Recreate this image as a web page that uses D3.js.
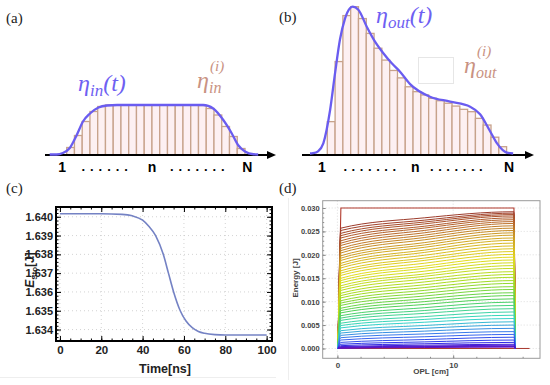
<!DOCTYPE html>
<html><head><meta charset="utf-8">
<script src="https://cdn.jsdelivr.net/npm/d3@7"></script>
<style>body{margin:0;background:#fff} svg{display:block}</style>
</head><body><div id="app"></div>
<script>
// ---- (a) input slices and envelope (normalised to plateau) ----
const barsIn = [0.15,0.39,0.67,0.87,0.97,1,1,1,1,1,1,1,1,1,1,1,1,0.99,0.93,0.80,0.57,0.37,0.13];
const envInU = [-2.2,-1.3,-0.5,0.4,1.3,2.1,3.0,4.1,5.2,6.5,17.6,18.9,20.2,21.3,22.1,23.0,24.1,24.7];
const envInV = [0.01,0.01,0.04,0.14,0.40,0.67,0.83,0.95,0.99,1.0,1.0,0.93,0.70,0.43,0.20,0.07,0.015,0.01];
const idxLabelsIn = ["1","n","N"], idxPosIn = [-0.6,11.0,23.3];
const dotPosIn = [2.15,3.25,4.35,5.45,6.55,7.65,13.55,14.65,15.75,16.85,17.95,19.05,20.15];

// ---- (b) output slices and envelope (normalised to peak) ----
const barsOut = [0.225,0.63,0.94,1.0,0.92,0.82,0.72,0.64,0.57,0.52,0.46,0.427,0.405,0.382,0.366,0.349,0.33,0.308,0.292,0.247,0.202,0.12,0.056];
const envOutU = [-2.22,-1.84,-1.19,-0.51,0.35,0.99,1.63,2.27,2.91,3.26,3.98,5.06,6.12,7.19,8.27,9.33,10.62,13.18,15.75,18.32,19.6,20.88,21.75,23.03,23.84];
const envOutV = [0.01,0.012,0.025,0.079,0.30,0.55,0.78,0.92,0.99,1.0,0.98,0.865,0.764,0.686,0.618,0.562,0.478,0.393,0.36,0.326,0.275,0.16,0.08,0.016,0.01];
const idxLabelsOut = ["1","n","N"], idxPosOut = [-0.7,11.3,23.3];
const dotPosOut = [2.3,3.35,4.4,5.45,6.5,7.55,8.6,13.4,14.45,15.5,16.55,17.6,18.65,19.7];

// ---- (c) stored energy vs time ----
const timeNs  = [0,20,30,35,40,43,46.3,50,52.5,55,58.2,61,64,67,70,75,80,100];
const energyJ = [1.64016,1.64016,1.64013,1.64005,1.63982,1.63950,1.6390,1.6380,1.6370,1.6360,1.6350,1.63445,1.6341,1.63390,1.63380,1.63373,1.63371,1.63371];
const yTicksC = [1.634,1.635,1.636,1.637,1.638,1.639,1.640];
const xTicksC = [0,20,40,60,80,100];

// ---- (d) energy along OPL, one curve per pass ----
const inputLevel = 0.030;
const oplStart = 0.3, oplMid = 7.5, oplEnd = 15.25;
const eLeft  = [0.0257,0.0252,0.0246,0.0241,0.0236,0.0230,0.0225,0.0220,0.0214,0.0209,0.0204,0.0198,0.0193,0.0188,0.0182,0.0177,0.0172,0.0166,0.0161,0.0156,0.0150,0.0145,0.0140,0.0134,0.0129,0.0124,0.0118,0.0113,0.0108,0.0102,0.0097,0.0092,0.0086,0.0081,0.0076,0.0070,0.0065,0.0060,0.0054,0.0049,0.0044,0.0038,0.0033,0.0028,0.0023,0.0018,0.0013,0.0009,0.0006,0.0004,0.0003,0.0002,0.0001,0.00005];
const eMid   = [0.0279,0.0274,0.0270,0.0266,0.0261,0.0257,0.0252,0.0247,0.0242,0.0237,0.0232,0.0226,0.0221,0.0216,0.0210,0.0205,0.0199,0.0193,0.0188,0.0182,0.0176,0.0171,0.0165,0.0159,0.0154,0.0148,0.0142,0.0136,0.0130,0.0124,0.0118,0.0112,0.0106,0.0100,0.0094,0.0087,0.0081,0.0075,0.0068,0.0062,0.0056,0.0049,0.0043,0.0037,0.0031,0.0025,0.0019,0.0014,0.0010,0.0007,0.0005,0.0004,0.0003,0.0002];
const eRight = [0.0292,0.0289,0.0286,0.0283,0.0279,0.0275,0.0271,0.0267,0.0262,0.0257,0.0252,0.0247,0.0242,0.0236,0.0231,0.0225,0.0219,0.0213,0.0207,0.0201,0.0195,0.0189,0.0183,0.0177,0.0171,0.0164,0.0158,0.0152,0.0145,0.0139,0.0132,0.0126,0.0119,0.0113,0.0106,0.0099,0.0092,0.0085,0.0078,0.0071,0.0064,0.0057,0.0050,0.0043,0.0036,0.0030,0.0024,0.0018,0.0013,0.0009,0.0007,0.0005,0.0004,0.0003];
const yTicksD = [0,0.005,0.010,0.015,0.020,0.025,0.030];
const xTicksD = [0,10];

const W = 550, H = 385;
const svg = d3.select("#app").append("svg")
    .attr("width", W).attr("height", H)
    .style("font-family", "'Liberation Sans', Arial, sans-serif");

// faint panel borders from the source figure
svg.append("line").attr("x1",0).attr("x2",276).attr("y1",377.5).attr("y2",377.5).attr("stroke","#eee");
svg.append("line").attr("x1",288.5).attr("x2",288.5).attr("y1",198).attr("y2",380).attr("stroke","#eee");

// panel letters
[["(a)",6,23],["(b)",279,22],["(c)",6,193],["(d)",279,193]].forEach(p=>{
    svg.append("text").attr("x",p[1]).attr("y",p[2]).text(p[0])
        .style("font-family","'Liberation Serif', 'DejaVu Serif', serif").style("font-size","15px").attr("fill","#222");
});

const barFill = "#fdf0f2", barStroke = "#c7a28b", envColor = "#6a5cf0", sliceColor = "#c99282";

function slicePanel(g, bars, envU, envV, x, y, axisX0, axisX1, labels, labelPos, dots){
    g.selectAll("rect.bar").data(bars).enter().append("rect")
        .attr("class","bar")
        .attr("x",(d,i)=>x(i)).attr("width",(d,i)=>x(i+1)-x(i))
        .attr("y",d=>y(d)).attr("height",d=>y(0)-y(d))
        .attr("fill",barFill).attr("stroke",barStroke).attr("stroke-width",1.3);
    const ay = y(0);
    g.append("line").attr("x1",axisX0).attr("x2",axisX1-4).attr("y1",ay).attr("y2",ay)
        .attr("stroke","#000").attr("stroke-width",2.2);
    g.append("path").attr("d",`M${axisX1},${ay}L${axisX1-9},${ay-4}L${axisX1-9},${ay+4}Z`).attr("fill","#000");
    const line = d3.line().x(d=>x(d[0])).y(d=>y(d[1])).curve(d3.curveMonotoneX);
    g.append("path").datum(envU.map((u,i)=>[u,envV[i]]))
        .attr("d",line).attr("fill","none").attr("stroke",envColor).attr("stroke-width",2.3);
    g.selectAll("text.idx").data(labels).enter().append("text").attr("class","idx")
        .attr("x",(d,i)=>x(labelPos[i])).attr("y",172).attr("text-anchor","middle")
        .style("font-size","14px").style("font-weight","bold").text(d=>d);
    g.selectAll("text.dot").data(dots).enter().append("text").attr("class","dot")
        .attr("x",d=>x(d)).attr("y",171).attr("text-anchor","middle")
        .style("font-size","13px").style("font-weight","bold").text(".");
}

// (a)
const xA = d3.scaleLinear().domain([0, barsIn.length]).range([66.7, 245]);
const yA = d3.scaleLinear().domain([0, 1]).range([155, 105]);
slicePanel(svg.append("g"), barsIn, envInU, envInV, xA, yA, 45, 276, idxLabelsIn, idxPosIn, dotPosIn);

// (b)
const xB = d3.scaleLinear().domain([0, barsOut.length]).range([327.3, 506.6]);
const yB = d3.scaleLinear().domain([0, 1]).range([155, 6.7]);
slicePanel(svg.append("g"), barsOut, envOutU, envOutV, xB, yB, 302, 534, idxLabelsOut, idxPosOut, dotPosOut);

// math labels
function mathLabel(x, y, sub, sup, tail, color){
    const t = svg.append("text").attr("x",x).attr("y",y).attr("fill",color)
        .style("font-family","'Liberation Serif', 'DejaVu Serif', serif").style("font-style","italic").style("font-size","24px");
    t.append("tspan").text("η");
    if (sup){
        t.append("tspan").attr("x",x+13).attr("dy",-17).style("font-size","15px").text(sup);
        t.append("tspan").attr("x",x+12).attr("dy",22).style("font-size","16px").text(sub);
    } else {
        t.append("tspan").attr("dy",5).style("font-size","17px").text(sub);
        t.append("tspan").attr("dy",-5).text(tail);
    }
}
mathLabel(78, 91, "in", null, "(t)", "#6e60f2");
mathLabel(197, 88, "in", "(i)", null, sliceColor);
mathLabel(376, 23, "out", null, "(t)", "#6e60f2");
mathLabel(464, 73, "out", "(i)", null, sliceColor);
svg.append("rect").attr("x",418.5).attr("y",57.5).attr("width",35).attr("height",26)
    .attr("fill","none").attr("stroke","#e6e6e6");

// ---- (c) ----
const xC = d3.scaleLinear().domain([-1.9, 102.6]).range([56, 272]);
const yC = d3.scaleLinear().domain([1.63339, 1.64052]).range([341, 207]);
const gC = svg.append("g");
gC.selectAll("line.gy").data(yTicksC).enter().append("line")
    .attr("x1",56).attr("x2",272).attr("y1",d=>yC(d)).attr("y2",d=>yC(d))
    .attr("stroke","#c8c8c8").attr("stroke-width",0.8).attr("stroke-dasharray","1,3");
gC.selectAll("line.gx").data(xTicksC).enter().append("line")
    .attr("y1",207).attr("y2",341).attr("x1",d=>xC(d)).attr("x2",d=>xC(d))
    .attr("stroke","#c8c8c8").attr("stroke-width",0.8).attr("stroke-dasharray","1,3");
const minorYC = d3.range(1.6336, 1.64051, 0.0002), minorXC = d3.range(0, 101, 5);
function styleAxis(sel, size, fill){
    sel.select(".domain").remove();
    sel.selectAll("text").style("font-size",size).style("font-weight","bold").attr("fill",fill);
}
gC.append("g").attr("transform","translate(56,0)")
    .call(d3.axisLeft(yC).tickValues(yTicksC).tickFormat(d3.format(".3f")).tickSize(-5).tickPadding(3))
    .call(s=>styleAxis(s,"11px","#222"));
gC.append("g").attr("transform","translate(56,0)")
    .call(d3.axisLeft(yC).tickValues(minorYC).tickFormat("").tickSize(-2.5)).call(s=>s.select(".domain").remove());
gC.append("g").attr("transform","translate(272,0)")
    .call(d3.axisRight(yC).tickValues(yTicksC).tickFormat("").tickSize(-5)).call(s=>s.select(".domain").remove());
gC.append("g").attr("transform","translate(272,0)")
    .call(d3.axisRight(yC).tickValues(minorYC).tickFormat("").tickSize(-2.5)).call(s=>s.select(".domain").remove());
gC.append("g").attr("transform","translate(0,341)")
    .call(d3.axisBottom(xC).tickValues(xTicksC).tickSize(-5).tickPadding(5))
    .call(s=>styleAxis(s,"11.5px","#222"));
gC.append("g").attr("transform","translate(0,341)")
    .call(d3.axisBottom(xC).tickValues(minorXC).tickFormat("").tickSize(-2.5)).call(s=>s.select(".domain").remove());
gC.append("g").attr("transform","translate(0,207)")
    .call(d3.axisTop(xC).tickValues(xTicksC).tickFormat("").tickSize(-5)).call(s=>s.select(".domain").remove());
gC.append("g").attr("transform","translate(0,207)")
    .call(d3.axisTop(xC).tickValues(minorXC).tickFormat("").tickSize(-2.5)).call(s=>s.select(".domain").remove());
gC.append("rect").attr("x",56).attr("y",207).attr("width",216).attr("height",134)
    .attr("fill","none").attr("stroke","#000").attr("stroke-width",2);
gC.append("path").datum(timeNs.map((t,i)=>[t,energyJ[i]]))
    .attr("d", d3.line().x(d=>xC(d[0])).y(d=>yC(d[1])).curve(d3.curveMonotoneX))
    .attr("fill","none").attr("stroke","#7482c4").attr("stroke-width",1.6);
const ylabC = gC.append("text").attr("transform","translate(34,270) rotate(-90)").attr("text-anchor","middle")
    .style("font-size","12px").style("font-weight","bold").attr("fill","#222");
ylabC.append("tspan").style("font-style","italic").text("E");
ylabC.append("tspan").attr("dy",3).style("font-size","8px").text("Sto");
ylabC.append("tspan").attr("dy",-3).text("[J]");
gC.append("text").attr("x",165).attr("y",373).attr("text-anchor","middle")
    .style("font-size","12.5px").style("font-weight","bold").attr("fill","#222").text("Time[ns]");

// ---- (d) ----
const xD = d3.scaleLinear().domain([-1.27, 17.5]).range([322.7, 540]);
const yD = d3.scaleLinear().domain([-0.0021, 0.03156]).range([358.3, 200.7]);
const gD = svg.append("g");
gD.selectAll("line.gy").data(yTicksD).enter().append("line")
    .attr("x1",322.7).attr("x2",540).attr("y1",d=>yD(d)).attr("y2",d=>yD(d))
    .attr("stroke","#cfcfcf").attr("stroke-width",0.7).attr("stroke-dasharray","1,2");
gD.selectAll("line.gx").data(xTicksD).enter().append("line")
    .attr("y1",200.7).attr("y2",358.3).attr("x1",d=>xD(d)).attr("x2",d=>xD(d))
    .attr("stroke","#cfcfcf").attr("stroke-width",0.7).attr("stroke-dasharray","1,2");

const passColor = d3.scaleLinear()
    .domain([0.0257,0.0225,0.019,0.015,0.011,0.0075,0.0045,0.002,0.0007,0.0001])
    .range(["#9c3b2b","#b9692c","#d2a724","#e3dc1f","#a6dc22","#4fd05a","#35d6c8","#3a6ef0","#2a2ee8","#5a14c8"]);
const lineD = d3.line().x(d=>xD(d[0])).y(d=>yD(d[1]));
gD.append("path").datum([[0,0],[16.6,0]]).attr("d",lineD).attr("stroke","#a8362c").attr("fill","none");
gD.append("path").datum([[0.05,0],[oplStart,inputLevel],[oplEnd,inputLevel],[oplEnd+0.1,0]])
    .attr("d",lineD).attr("stroke","#b0392c").attr("fill","none").attr("stroke-width",1.1);
const curveD = d3.line().x(d=>xD(d[0])).y(d=>yD(d[1])).curve(d3.curveMonotoneX);
gD.selectAll("path.pass").data(eLeft).enter().append("path").attr("class","pass")
    .attr("d",(d,i)=>curveD([[0.05,0],[oplStart,d],[oplMid,eMid[i]],[oplEnd,eRight[i]],[oplEnd+0.1,0]]))
    .attr("fill","none").attr("stroke",d=>passColor(d)).attr("stroke-width",1);

gD.append("g").attr("transform","translate(322.7,0)")
    .call(d3.axisLeft(yD).tickValues(yTicksD).tickFormat(d3.format(".3f")).tickSize(-3).tickPadding(3))
    .call(s=>styleAxis(s,"7.5px","#444"));
gD.append("g").attr("transform","translate(322.7,0)")
    .call(d3.axisLeft(yD).tickValues(d3.range(0,0.0301,0.001)).tickFormat("").tickSize(-1.5)).call(s=>s.select(".domain").remove());
gD.append("g").attr("transform","translate(0,358.3)")
    .call(d3.axisBottom(xD).tickValues(xTicksD).tickSize(-3).tickPadding(4))
    .call(s=>styleAxis(s,"8px","#444"));
gD.append("g").attr("transform","translate(0,358.3)")
    .call(d3.axisBottom(xD).tickValues(d3.range(0,17,2)).tickFormat("").tickSize(-1.5)).call(s=>s.select(".domain").remove());
gD.selectAll(".tick line").attr("stroke","#888");
gD.append("rect").attr("x",322.7).attr("y",200.7).attr("width",217.3).attr("height",157.6)
    .attr("fill","none").attr("stroke","#9a9a9a").attr("stroke-width",1);
gD.append("text").attr("transform","translate(298,278) rotate(-90)").attr("text-anchor","middle")
    .style("font-size","8px").style("font-weight","bold").attr("fill","#444").text("Energy [J]");
gD.append("text").attr("x",431).attr("y",374).attr("text-anchor","middle")
    .style("font-size","8px").style("font-weight","bold").attr("fill","#444").text("OPL [cm]");
</script>
</body></html>
